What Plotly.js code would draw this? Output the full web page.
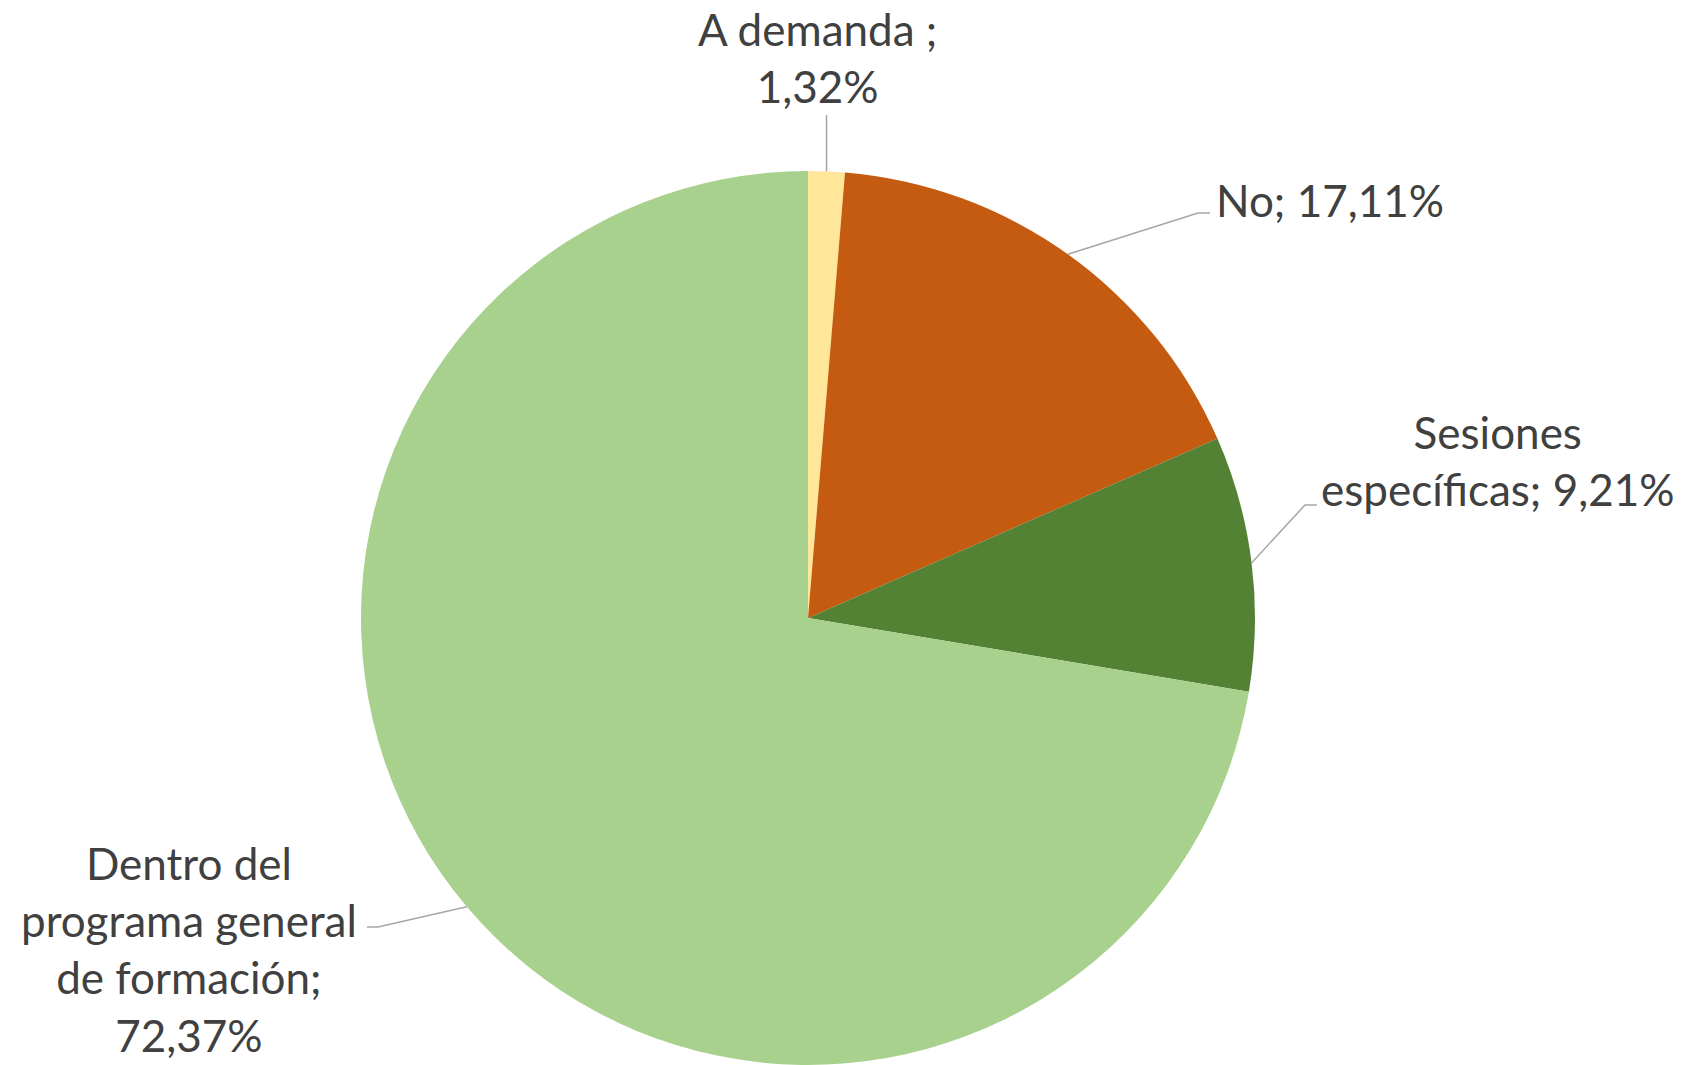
<!DOCTYPE html>
<html>
<head>
<meta charset="utf-8">
<script src="https://cdn.plot.ly/plotly-3.0.1.min.js"></script>
<style>html,body{margin:0;padding:0;background:#fff;}#chart{width:1688px;height:1065px;}</style>
</head>
<body>
<div id="chart"></div>
<script>
// ---- Data ----
const categories = ["A demanda ", "No", "Sesiones específicas", "Dentro del programa general de formación"];
const values = [1.32, 17.11, 9.21, 72.37];
const valueLabels = ["1,32%", "17,11%", "9,21%", "72,37%"];
const labelTexts = ["A demanda ;<br>1,32%", "No; 17,11%", "Sesiones<br>específicas; 9,21%", "Dentro del<br>programa general<br>de formación;<br>72,37%"];
const colors = ["#FFE699", "#C55A11", "#548235", "#A9D18E"];

// ---- Layout geometry (pixels) ----
const W = 1688, H = 1065;
const CX = 808, CY = 618, R = 447;
const px = x => x / W;
const py = y => 1 - y / H;

// label placement (pixel positions) and leader-line elbows
const labelPos = [
  {x: 817, y: 57, xanchor: "center"},
  {x: 1214, y: 200, xanchor: "left"},
  {x: 1497, y: 461, xanchor: "center"},
  {x: 189, y: 949, xanchor: "center"}
];
const elbows = [
  null,
  [[1210, 213], [1198, 213]],
  [[1317, 505], [1305, 505]],
  [[367, 927], [378, 927]]
];

const total = values.reduce((a, b) => a + b, 0);
let cum = 0;
const shapes = [];
values.forEach((v, i) => {
  const mid = (cum + v / 2) / total * 2 * Math.PI;
  cum += v;
  const ex = CX + R * Math.sin(mid);
  const ey = CY - R * Math.cos(mid);
  let path;
  if (elbows[i] === null) {
    path = `M${px(ex)},${py(115)} L${px(ex)},${py(ey)}`;
  } else {
    const [a, b] = elbows[i];
    path = `M${px(a[0])},${py(a[1])} L${px(b[0])},${py(b[1])} L${px(ex)},${py(ey)}`;
  }
  shapes.push({type: "path", xref: "paper", yref: "paper", path: path,
    line: {color: "#A6A6A6", width: 1.5}});
});

const annotations = labelTexts.map((t, i) => ({
  text: t, xref: "paper", yref: "paper",
  x: px(labelPos[i].x), y: py(labelPos[i].y),
  xanchor: labelPos[i].xanchor, yanchor: "middle",
  showarrow: false, align: "center",
  font: {family: "Lato, 'Open Sans', sans-serif", size: 44, color: "#404040"}
}));

const trace = {
  type: "pie",
  labels: categories,
  values: values,
  sort: false,
  direction: "clockwise",
  rotation: 0,
  textinfo: "none",
  hoverinfo: "label+percent",
  marker: {colors: colors, line: {width: 0}},
  domain: {x: [px(CX - R), px(CX + R)], y: [py(CY + R), py(CY - R)]},
  showlegend: false
};

Plotly.newPlot("chart", [trace], {
  width: W, height: H,
  margin: {l: 0, r: 0, t: 0, b: 0},
  paper_bgcolor: "#ffffff",
  showlegend: false,
  shapes: shapes,
  annotations: annotations
}, {displayModeBar: false, staticPlot: true});
</script>
</body>
</html>
